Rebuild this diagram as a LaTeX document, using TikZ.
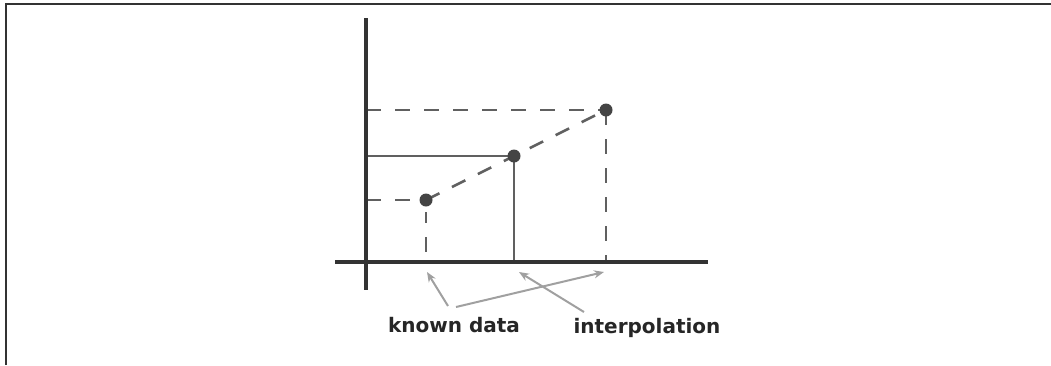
\documentclass[tikz,border=0pt]{standalone}
\usepackage{fontspec}
\setmainfont{DejaVu Sans}
\usetikzlibrary{arrows.meta}
\definecolor{axisc}{HTML}{333333}
\definecolor{linec}{HTML}{606060}
\definecolor{dotc}{HTML}{444444}
\definecolor{arrc}{HTML}{A0A0A0}
\tikzset{
  axisline/.style={draw=axisc, line width=3.5pt},
  guide/.style={draw=linec, line width=2.6pt},
  dashguide/.style={guide, dash pattern=on 15pt off 14pt},
  datapt/.style={circle, fill=dotc, inner sep=0pt, minimum size=13pt},
  pointer/.style={draw=arrc, line width=2pt, -{Stealth[length=10pt,width=8pt]}},
  lbl/.style={font=\bfseries\fontsize{20}{24}\selectfont, text=black!85, inner sep=0pt}
}
\begin{document}
\begin{tikzpicture}[x=1pt,y=-1pt]
\useasboundingbox (0,0) rectangle (1051,365);
% frame
\draw[draw=axisc, line width=2.5pt] (6,365) -- (6,4) -- (1051,4);
% axes
\coordinate (ytop) at (366,18);
\coordinate (ybot) at (366,290);
\coordinate (xl) at (335,262);
\coordinate (xr) at (708,262);
% guide ends
\coordinate (y1) at (366,200);
\coordinate (y2) at (366,156);
\coordinate (y3) at (366,110);
\coordinate (x1) at (426,262);
\coordinate (x2) at (514,262);
\coordinate (x3) at (606,262);
% guides
\draw[dashguide] (y1) -- (426,200);
\draw[dashguide] (y3) -- (606,110);
\draw[guide] (y2) -- (514,156) -- (x2);
\draw[dashguide, dash phase=4pt] (426,212) -- (x1);
\draw[dashguide] (606,110) -- (x3);
\draw[dashguide] (426,200) -- (514,156) -- (606,110);
% axes on top
\draw[axisline] (ytop) -- (ybot);
\draw[axisline] (xl) -- (xr);
% points
\node[datapt] (p1) at (426,200) {};
\node[datapt] (p2) at (514,156) {};
\node[datapt] (p3) at (606,110) {};
% labels
\node[lbl] (known) at (454,325) {known data};
\coordinate (ka) at (448,306);
\coordinate (kb) at (456,307);
\node[lbl] (interp) at (647,328) {interpolation};
\coordinate (ia) at (584,312);
\coordinate (t1) at (427,272);
\coordinate (t3) at (604,272);
\coordinate (t2) at (519,272);
\draw[pointer] (ka) -- (t1);
\draw[pointer] (kb) -- (t3);
\draw[pointer] (ia) -- (t2);
\end{tikzpicture}
\end{document}
